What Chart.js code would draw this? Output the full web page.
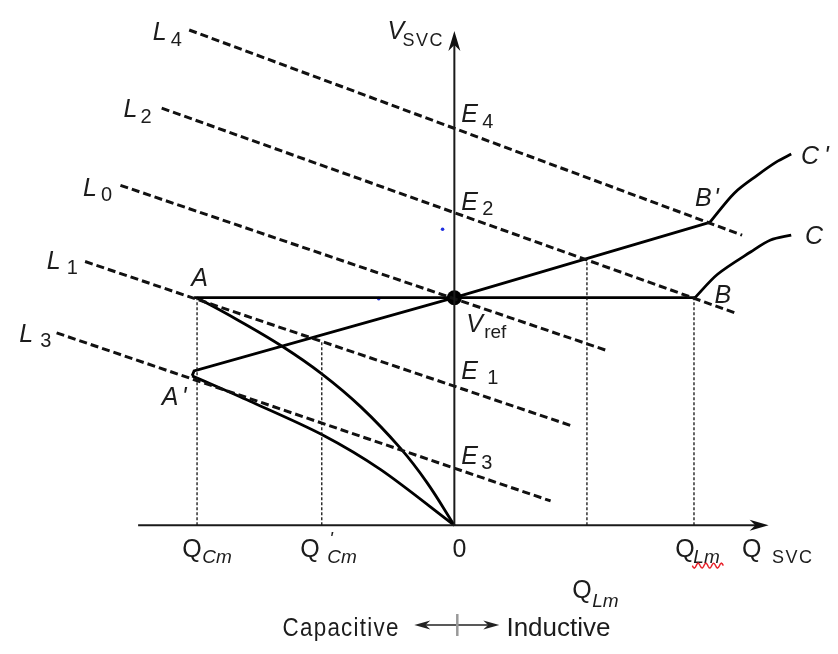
<!DOCTYPE html>
<html>
<head>
<meta charset="utf-8">
<title>SVC V-Q characteristic</title>
<script src="https://cdn.jsdelivr.net/npm/chart.js@4/dist/chart.umd.min.js"></script>
<style>
  html, body { margin: 0; padding: 0; background: #fff; }
  #wrap { width: 838px; height: 654px; }
</style>
</head>
<body>
<div id="wrap"><canvas id="svcChart" width="838" height="654"></canvas></div>
<script>
// ---------- Diagram data (Q to the right, V up, origin at Q = 0, V = 0) ----------
const vRef = 233;

// control characteristic A - Vref - B, then overload branch B - C
const flatRange = [-265, 245];
const branchBC = [[245, 233], [268, 257], [302, 280], [322, 292], [343, 297]];

// sloped characteristic A' - Vref - B', then branch B' - C'
const slopedLine = [[-267, 153], [-265, 158], [0, 233], [260, 310]];
const branchBpCp = [[260, 310], [285, 340], [308, 358], [328, 372], [343, 380]];

// capacitor limits from A and A' down to the origin
const capLimitA = [[-262, 233], [-222, 211], [-175, 183], [-135, 155], [-95, 121], [-55, 79], [-28, 44], [0, 0]];
const capLimitA2 = [[-267, 153], [-208, 127], [-135, 93], [-75, 57], [0, 0]];

// system load lines
const loadL4 = [[-270, 507], [293, 297]];
const loadL2 = [[-298, 427], [287, 217]];
const loadL0 = [[-340, 348], [155, 179]];
const loadL1 = [[-376, 270], [119, 102]];
const loadL3 = [[-405, 197], [98, 25]];

// projections down to the Q axis
const dropQ = [-262, -135, 135, 244];
const dropV = [233, 188, 273, 233];

// stray marks
const strayDots = [[-12, 303], [-77, 232]];

// axis extents
const qAxisEnds = [-322, 320];
const vAxisTop = 506;

// ---------- helpers ----------
const pts = arr => arr.map(([x, y]) => ({ x, y }));

const solid = (data, extra) => Object.assign({
    data: pts(data), showLine: true, borderColor: '#000', borderWidth: 2.8,
    pointRadius: 0, tension: 0, fill: false
}, extra || {});

const dashed = data => solid(data, { borderWidth: 3, borderDash: [8, 4], borderColor: '#111' });

const drops = dropQ.map((q, i) => solid([[q, 0], [q, dropV[i]]], {
    borderWidth: 1.3, borderDash: [3, 2], borderColor: '#111'
}));

// ---------- fonts ----------
const FAMILY = '"Liberation Sans", Arial, sans-serif';
const ITAL = `italic 25px ${FAMILY}`;
const UP = `25px ${FAMILY}`;
const DIGIT = `20px ${FAMILY}`;
const SUBI = `italic 19px ${FAMILY}`;
const SUBU = `19px ${FAMILY}`;
const SMALL = `18px ${FAMILY}`;

// text labels: anchor in diagram units, parts offset in pixels
const textLabels = [
    { q: -307, v: 497, parts: [['L', ITAL, 0, 0], ['4', DIGIT, 18, 6]] },
    { q: -337, v: 418, parts: [['L', ITAL, 0, 0], ['2', DIGIT, 17, 6]] },
    { q: -378, v: 337, parts: [['L', ITAL, 0, 0], ['0', DIGIT, 18, 5]] },
    { q: -415, v: 262, parts: [['L', ITAL, 0, 0], ['1', DIGIT, 20, 5]] },
    { q: -443, v: 188, parts: [['L', ITAL, 0, 0], ['3', DIGIT, 21, 5]] },
    { q: 7, v: 413, parts: [['E', ITAL, 0, 0], ['4', DIGIT, 21, 6]] },
    { q: 7, v: 323, parts: [['E', ITAL, 0, 0], ['2', DIGIT, 21, 5]] },
    { q: 7, v: 150, parts: [['E', ITAL, 0, 0], ['1', DIGIT, 26, 5]] },
    { q: 7, v: 63, parts: [['E', ITAL, 0, 0], ['3', DIGIT, 20, 5]] },
    { q: 12, v: 198, parts: [['V', ITAL, 0, 0], ['ref', SUBU, 18, 6]] },
    { q: -68, v: 498, parts: [['V', ITAL, 0, 0], ['SVC', SMALL, 15, 7, 1.5]] },
    { q: -268, v: 245, parts: [['A', ITAL, 0, 0]] },
    { q: -298, v: 123, parts: [['A', ITAL, 0, 0], ["'", ITAL, 20, 0]] },
    { q: 265, v: 228, parts: [['B', ITAL, 0, 0]] },
    { q: 245, v: 327, parts: [['B', ITAL, 0, 0], ["'", ITAL, 19, 0]] },
    { q: 357, v: 288, parts: [['C', ITAL, 0, 0]] },
    { q: 353, v: 370, parts: [['C', ITAL, 0, 0], ["'", ITAL, 23, 0]] },
    { q: -277, v: -32, parts: [['Q', UP, 0, 0], ['Cm', SUBI, 20, 6]] },
    { q: -157, v: -32, parts: [['Q', UP, 0, 0], ["'", SUBI, 29, -12], ['Cm', SUBI, 27, 6]] },
    { q: -2, v: -32, parts: [['0', UP, 0, 0]] },
    { q: 225, v: -32, parts: [['Q', UP, 0, 0], ['Lm', SUBI, 18, 6]] },
    { q: 120, v: -74, parts: [['Q', UP, 0, 0], ['Lm', SUBI, 20, 9]] },
    { q: 293, v: -32, parts: [['Q', UP, 0, 0], ['SVC', SMALL, 30, 6, 1.5]] }
];

// ---------- drawing plugin: arrows, labels, legend arrow ----------
function arrowHead(ctx, tipX, tipY, dirX, dirY, len, half) {
    const nx = -dirY, ny = dirX;
    const bx = tipX - dirX * len, by = tipY - dirY * len;
    ctx.beginPath();
    ctx.moveTo(tipX, tipY);
    ctx.lineTo(bx + nx * half, by + ny * half);
    ctx.lineTo(tipX - dirX * len * 0.7, tipY - dirY * len * 0.7);
    ctx.lineTo(bx - nx * half, by - ny * half);
    ctx.closePath();
    ctx.fill();
}

const diagramDecor = {
    id: 'diagramDecor',
    afterDatasetsDraw(chart) {
        const { ctx, scales: { x, y } } = chart;
        ctx.save();
        ctx.fillStyle = '#111';

        // axis arrowheads
        arrowHead(ctx, x.getPixelForValue(qAxisEnds[1]), y.getPixelForValue(0), 1, 0, 19, 5.5);
        arrowHead(ctx, x.getPixelForValue(0), y.getPixelForValue(vAxisTop), 0, -1, 20, 6);

        // labels
        ctx.fillStyle = '#1c1c1c';
        ctx.textBaseline = 'alphabetic';
        ctx.textAlign = 'left';
        textLabels.forEach(lb => {
            const px = x.getPixelForValue(lb.q), py = y.getPixelForValue(lb.v);
            lb.parts.forEach(([t, font, dx, dy, sp]) => {
                ctx.font = font;
                ctx.letterSpacing = (sp || 0) + 'px';
                ctx.fillText(t, px + dx, py + dy);
            });
        });
        ctx.letterSpacing = '0px';

        // red wavy underline under the second Q_Lm subscript
        const wx = x.getPixelForValue(225) + 17, wy = y.getPixelForValue(-32) + 9;
        ctx.strokeStyle = '#e8212a';
        ctx.lineWidth = 1.4;
        ctx.beginPath();
        for (let i = 0; i <= 31; i++) {
            const yy = wy + Math.sin(i / 31 * Math.PI * 8) * 2.5;
            if (i === 0) ctx.moveTo(wx + i, yy); else ctx.lineTo(wx + i, yy);
        }
        ctx.stroke();

        // Capacitive <-|-> Inductive
        const cx = x.getPixelForValue(3), cy = y.getPixelForValue(-102);
        ctx.fillStyle = '#1c1c1c';
        ctx.font = `26px ${FAMILY}`;
        ctx.save();
        ctx.translate(x.getPixelForValue(-175), y.getPixelForValue(-113));
        ctx.scale(0.86, 1);
        ctx.letterSpacing = '1.5px';
        ctx.fillText('Capacitive', 0, 0);
        ctx.restore();
        ctx.letterSpacing = '0px';
        ctx.fillText('Inductive', x.getPixelForValue(53), y.getPixelForValue(-113));

        ctx.strokeStyle = '#222';
        ctx.lineWidth = 1.6;
        ctx.beginPath();
        ctx.moveTo(cx - 38, cy);
        ctx.lineTo(cx + 37, cy);
        ctx.stroke();
        ctx.fillStyle = '#222';
        arrowHead(ctx, cx - 43, cy, -1, 0, 16, 4.5);
        arrowHead(ctx, cx + 42, cy, 1, 0, 16, 4.5);
        ctx.strokeStyle = '#999';
        ctx.lineWidth = 2.5;
        ctx.beginPath();
        ctx.moveTo(cx, cy - 11);
        ctx.lineTo(cx, cy + 11);
        ctx.stroke();

        ctx.restore();
    }
};

// ---------- Create Chart.js instance ----------
const ctx = document.getElementById('svcChart').getContext('2d');
const svcChart = new Chart(ctx, {
    type: 'scatter',
    data: {
        datasets: [
            // axes
            solid([[qAxisEnds[0], 0], [qAxisEnds[1] - 6, 0]], { borderWidth: 2, borderColor: '#1a1a1a' }),
            solid([[0, 0], [0, vAxisTop - 6]], { borderWidth: 2, borderColor: '#1a1a1a' }),
            ...drops,
            dashed(loadL4),
            dashed(loadL2),
            dashed(loadL0),
            dashed(loadL1),
            dashed(loadL3),
            solid([[flatRange[0], vRef], [flatRange[1], vRef]]),
            solid(branchBC, { tension: 0.3 }),
            solid(slopedLine),
            solid(branchBpCp, { tension: 0.3 }),
            solid(capLimitA, { tension: 0.4 }),
            solid(capLimitA2, { tension: 0.3 }),
            // Vref operating point
            { data: pts([[0, vRef]]), pointRadius: 7.5, pointBackgroundColor: '#000', pointBorderWidth: 0, showLine: false },
            { data: pts(strayDots), pointRadius: 1.8, pointBackgroundColor: '#1f2fe0', pointBorderWidth: 0, showLine: false }
        ]
    },
    options: {
        responsive: false,
        animation: false,
        layout: { padding: 0 },
        plugins: { legend: { display: false }, tooltip: { enabled: false } },
        scales: {
            x: { type: 'linear', display: false, min: -455, max: 383 },
            y: { type: 'linear', display: false, min: -124, max: 530 }
        }
    },
    plugins: [diagramDecor]
});
</script>
</body>
</html>
